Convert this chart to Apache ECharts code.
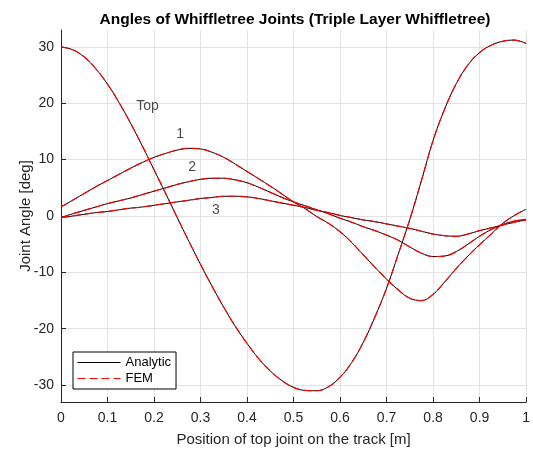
<!DOCTYPE html>
<html>
<head>
<meta charset="utf-8">
<script src="https://cdn.jsdelivr.net/npm/echarts@6/dist/echarts.min.js"></script>
<style>html,body{margin:0;padding:0;background:#fff}#c{width:533px;height:452px}</style>
</head>
<body>
<div id="c"></div>
<script>
// ---- data ----
var xs = [0, 0.025, 0.05, 0.075, 0.1, 0.125, 0.15, 0.175, 0.2, 0.225, 0.25, 0.275, 0.3, 0.325, 0.35, 0.375, 0.4, 0.425, 0.45, 0.475, 0.5,
          0.525, 0.55, 0.575, 0.6, 0.625, 0.65, 0.675, 0.7, 0.725, 0.75, 0.775, 0.8, 0.825, 0.85, 0.875, 0.9, 0.925, 0.95, 0.975, 1];
var topJoint = [30.0, 29.5, 28.2, 26.1, 23.4, 20.1, 16.4, 12.4, 8.2, 4.0, -0.3, -4.5, -8.6, -12.5, -16.2, -19.6, -22.6, -25.3, -27.5, -29.2, -30.4,
                -30.95, -31.0, -30.3, -28.6, -26.0, -22.4, -17.9, -12.8, -6.8, -0.6, 6.3, 13.4, 19.0, 23.5, 26.8, 29.0, 30.3, 31.0, 31.2, 30.6];
var joint1 = [1.6, 2.8, 4.0, 5.2, 6.3, 7.4, 8.5, 9.5, 10.4, 11.1, 11.7, 12.0, 11.9, 11.3, 10.4, 9.2, 7.9, 6.6, 5.3, 3.9, 2.5,
              1.3, -0.1, -1.3, -2.8, -4.7, -6.9, -9.1, -11.2, -13.1, -14.6, -15.0, -13.9, -11.7, -9.3, -7.1, -5.1, -3.2, -1.3, 0.1, 1.2];
var joint2 = [-0.3, 0.4, 1.0, 1.6, 2.2, 2.7, 3.2, 3.8, 4.4, 5.0, 5.6, 6.1, 6.5, 6.7, 6.7, 6.4, 5.9, 5.1, 4.2, 3.3, 2.5,
              1.8, 1.1, 0.4, -0.4, -1.1, -1.9, -2.6, -3.4, -4.3, -5.5, -6.6, -7.2, -7.1, -6.3, -5.0, -3.6, -2.4, -1.5, -0.9, -0.6];
var joint3 = [-0.3, 0.0, 0.3, 0.6, 0.8, 1.1, 1.4, 1.6, 1.9, 2.2, 2.5, 2.8, 3.1, 3.3, 3.5, 3.5, 3.4, 3.1, 2.7, 2.3, 1.9,
              1.5, 1.0, 0.6, 0.1, -0.3, -0.7, -1.0, -1.4, -1.8, -2.2, -2.7, -3.2, -3.5, -3.6, -3.2, -2.6, -2.1, -1.6, -1.1, -0.7];
var curveLabels = ['Top', '1', '2', '3'];
var labelX = [0.186, 0.256, 0.282, 0.333];
var labelY = [19.45, 14.46, 8.6, 1.06];
var yTicks = [-30, -20, -10, 0, 10, 20, 30];

function pairs(ys) { return xs.map(function (x, i) { return [x, ys[i]]; }); }

var curves = [topJoint, joint1, joint2, joint3];
var series = [];
curves.forEach(function (c) {
  series.push({
    name: 'Analytic', type: 'line', data: pairs(c), smooth: 0.4, symbol: 'none',
    lineStyle: { color: '#000', width: 1 }, itemStyle: { color: '#000' }, z: 2
  });
});
curves.forEach(function (c) {
  series.push({
    name: 'FEM', type: 'line', data: pairs(c), smooth: 0.4, symbol: 'none',
    lineStyle: { color: '#ff0000', width: 1.2, type: [8, 4] }, itemStyle: { color: '#ff0000' }, z: 3
  });
});
series.push({
  name: 'labels', type: 'scatter', symbol: 'circle', symbolSize: 1,
  itemStyle: { color: 'transparent' }, silent: true, z: 4,
  data: curveLabels.map(function (t, i) { return { name: t, value: [labelX[i], labelY[i]] }; }),
  label: { show: true, position: 'inside', formatter: '{b}', color: '#1a1a1a', fontSize: 14, fontFamily: 'Liberation Sans, Arial, sans-serif' }
});

var axisColor = '#262626';
var font = 'Liberation Sans, Arial, sans-serif';
var option = {
  animation: false,
  backgroundColor: '#fff',
  title: {
    text: 'Angles of Whiffletree Joints (Triple Layer Whiffletree)',
    left: 290, top: 7, textAlign: 'center',
    textStyle: { fontSize: 15.5, fontWeight: 'bold', color: '#000', fontFamily: font }
  },
  legend: {
    data: ['Analytic', 'FEM'], orient: 'vertical', left: 73, top: 352,
    itemWidth: 43, itemHeight: 14, itemGap: 3, padding: [4, 5, 4, 4],
    borderColor: '#000', borderWidth: 1, backgroundColor: '#fff', borderRadius: 0,
    itemStyle: { opacity: 0 }, lineStyle: { width: 1 },
    textStyle: { fontSize: 13, color: '#000', fontFamily: font }, selectedMode: false
  },
  grid: { left: 61, right: 2, top: 30, bottom: 49, containLabel: false },
  xAxis: {
    type: 'value', min: 0, max: 1, interval: 0.1,
    name: 'Position of top joint on the track [m]', nameLocation: 'middle', nameGap: 30,
    nameTextStyle: { fontSize: 15, color: axisColor, fontFamily: font },
    axisLine: { show: true, onZero: false, lineStyle: { color: axisColor, width: 1 } },
    axisTick: { show: true, inside: true, length: 5, lineStyle: { color: axisColor } },
    axisLabel: { fontSize: 14, color: axisColor, margin: 9, fontFamily: font },
    splitLine: { show: true, lineStyle: { color: '#e3e3e3', width: 1 } }
  },
  yAxis: {
    type: 'value', min: -33, max: 33,
    name: 'Joint Angle [deg]', nameLocation: 'middle', nameGap: 28, nameRotate: 90, nameMoveOverlap: false,
    nameTextStyle: { fontSize: 15, color: axisColor, fontFamily: font },
    axisLine: { show: true, onZero: false, lineStyle: { color: axisColor, width: 1 } },
    axisTick: { show: true, inside: true, length: 5, customValues: yTicks, lineStyle: { color: axisColor } },
    axisLabel: { fontSize: 14, color: axisColor, margin: 7, customValues: yTicks, fontFamily: font },
    splitLine: { show: true, lineStyle: { color: '#e3e3e3', width: 1 } }
  },
  series: series
};
var chart = echarts.init(document.getElementById('c'));
chart.setOption(option);
</script>
</body>
</html>
